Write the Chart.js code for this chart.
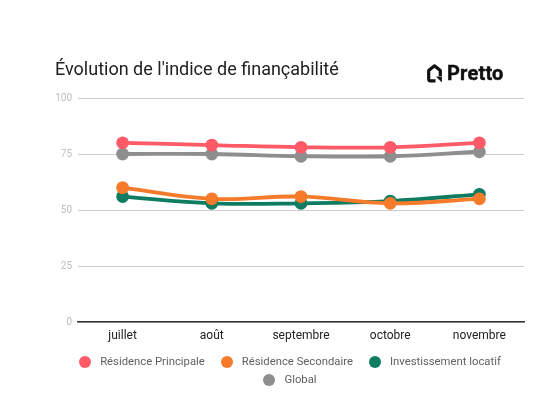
<!DOCTYPE html>
<html lang="fr">
<head>
<meta charset="utf-8" />
<title>Évolution de l'indice de finançabilité</title>
<script src="https://cdn.jsdelivr.net/npm/chart.js@4.4.1/dist/chart.umd.min.js"></script>
<style>
  * { box-sizing: border-box; }
  html, body { margin: 0; padding: 0; background: #fff; }
  body { width: 557px; height: 402px; position: relative; overflow: hidden; font-family: Roboto, "Noto Sans", sans-serif; }
  #wrap { position: absolute; left: 0; top: 0; width: 557px; height: 402px; }
  h1 {
    position: absolute; left: 55px; top: 58px; margin: 0;
    font-size: 18px; font-weight: 400; color: #212121; white-space: nowrap;
  }
  .logo { position: absolute; left: 427px; top: 61px; display: flex; align-items: center; }
  .logo svg { display: block; }
  .logo span { font-size: 20px; font-weight: 700; color: #111; margin-left: 5px; letter-spacing: 0.2px; -webkit-text-stroke: 0.4px #111; }
  #legend {
    position: absolute; left: 40px; width: 500px; top: 353px;
    display: flex; flex-wrap: wrap; justify-content: center;
    font-size: 11.3px; color: #616161; line-height: 18px;
  }
  #legend .item { display: flex; align-items: center; margin: 0 8px; }
  #legend .dot { width: 12px; height: 12px; border-radius: 50%; margin-right: 9px; }
  #legend .break { flex-basis: 100%; height: 0; }
</style>
</head>
<body>
<div id="wrap"><canvas id="chart"></canvas></div>
<h1>Évolution de l'indice de finançabilité</h1>
<div class="logo">
  <svg width="15" height="19" viewBox="0 0 15 19">
    <path d="M8.5 16.8 H3.2 Q1.7 16.8 1.7 15.3 V6.6 L7.5 1.8 L13.3 6.6 V12" fill="none" stroke="#111" stroke-width="3.2" stroke-linejoin="round"/>
    <path d="M9 12.4 L14.9 12.4 L14.9 18.6 Z" fill="#111"/>
  </svg>
  <span>Pretto</span>
</div>
<div id="legend"></div>
<script>
const months = ["juillet", "août", "septembre", "octobre", "novembre"];
const residencePrincipale = [80, 79, 78, 78, 80];
const residenceSecondaire = [60, 55, 56, 53, 55];
const investissementLocatif = [56, 53, 53, 54, 57];
const global = [75, 75, 74, 74, 76];
const yTicks = [0, 25, 50, 75, 100];

const seriesNames = ["Résidence Principale", "Résidence Secondaire", "Investissement locatif", "Global"];
const seriesValues = [residencePrincipale, residenceSecondaire, investissementLocatif, global];
const seriesColors = ["#ff5a67", "#f57a2a", "#0e7c61", "#8e8e8e"];
// draw order: gray under the others
const drawOrder = [1, 2, 3, 4];

const datasets = seriesNames.map((name, i) => ({
  label: name,
  data: seriesValues[i],
  borderColor: seriesColors[i],
  backgroundColor: seriesColors[i],
  pointBackgroundColor: seriesColors[i],
  pointBorderColor: seriesColors[i],
  borderWidth: 3.8,
  pointRadius: 4.5,
  pointHoverRadius: 4.5,
  tension: 0.4,
  fill: false,
  order: drawOrder[i],
}));

new Chart(document.getElementById("chart"), {
  type: "line",
  data: { labels: months, datasets },
  options: {
    responsive: true,
    maintainAspectRatio: false,
    animation: false,
    layout: { padding: { top: 98, right: 33, bottom: 56, left: 0 } },
    plugins: {
      legend: { display: false },
      tooltip: { enabled: false },
    },
    scales: {
      x: {
        offset: true,
        grid: { display: false, drawTicks: false },
        border: { display: true, color: "#333", width: 1.5 },
        ticks: { color: "#222", padding: 7, font: { family: "Roboto", size: 12 } },
        afterFit(scale) { scale.height = 24; },
      },
      y: {
        min: 0,
        max: 100,
        afterBuildTicks(scale) { scale.ticks = yTicks.map((v) => ({ value: v })); },
        grid: { color: "#cccccc", lineWidth: 1, drawTicks: false },
        border: { display: false },
        ticks: { color: "#bdbdbd", padding: 6, font: { family: "Roboto", size: 10 } },
        afterFit(scale) { scale.width = 78; },
      },
    },
  },
});

const legend = document.getElementById("legend");
seriesNames.forEach((name, i) => {
  if (i === 3) {
    const br = document.createElement("div");
    br.className = "break";
    legend.appendChild(br);
  }
  const item = document.createElement("div");
  item.className = "item";
  item.innerHTML = `<span class="dot" style="background:${seriesColors[i]}"></span>${name}`;
  legend.appendChild(item);
});
</script>
</body>
</html>
